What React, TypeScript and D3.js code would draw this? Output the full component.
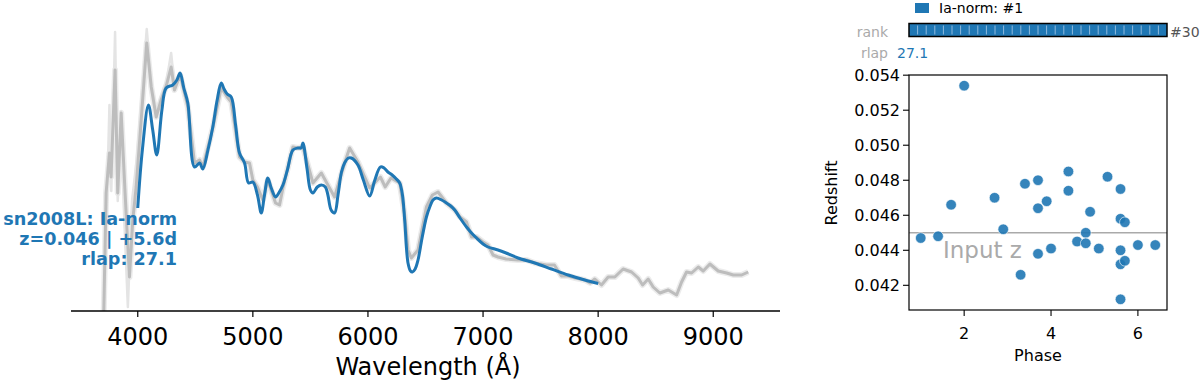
import React from 'react';
import * as d3 from 'd3';

// observed spectrum (smoothed), arbitrary flux units
const obsWave = [3700, 3725, 3754, 3768, 3803, 3826, 3856, 3890, 3928, 3957, 3986, 4030, 4078, 4117, 4160, 4203, 4250, 4290, 4319, 4368, 4435, 4493, 4537, 4565, 4652, 4725, 4777, 4812, 4884, 4928, 4971, 5000, 5040, 5087, 5130, 5197, 5232, 5261, 5348, 5391, 5435, 5522, 5595, 5652, 5710, 5797, 5841, 5913, 6015, 6108, 6150, 6200, 6276, 6319, 6348, 6377, 6435, 6508, 6560, 6609, 6682, 6754, 6800, 6856, 6900, 6943, 7000, 7043, 7087, 7130, 7200, 7304, 7380, 7450, 7550, 7620, 7680, 7739, 7800, 7884, 7930, 7971, 8029, 8087, 8145, 8217, 8290, 8348, 8386, 8435, 8478, 8536, 8609, 8682, 8725, 8768, 8812, 8870, 8913, 8971, 9043, 9116, 9174, 9247, 9304];
const obsFlux = [-0.29, 1.18, 1.58, 1.34, 2.41, 1.18, 1.98, 1.18, 0.34, 0.91, 1.24, 1.91, 2.68, 2.24, 1.94, 2.11, 2.26, 2.44, 2.21, 2.36, 2.04, 1.48, 1.51, 1.44, 1.83, 2.23, 2.14, 2.09, 1.54, 1.49, 1.48, 1.31, 1.24, 1.11, 1.31, 1.08, 1.06, 1.23, 1.64, 1.63, 1.64, 1.28, 1.38, 1.26, 1.14, 1.48, 1.63, 1.49, 1.23, 1.34, 1.24, 1.33, 1.28, 0.96, 0.61, 0.53, 0.61, 1.04, 1.16, 1.19, 1.08, 1.01, 0.94, 0.89, 0.74, 0.74, 0.69, 0.66, 0.56, 0.54, 0.52, 0.51, 0.51, 0.48, 0.46, 0.46, 0.35, 0.35, 0.33, 0.31, 0.28, 0.32, 0.26, 0.34, 0.34, 0.42, 0.39, 0.33, 0.26, 0.32, 0.24, 0.18, 0.21, 0.16, 0.29, 0.39, 0.38, 0.44, 0.40, 0.47, 0.40, 0.38, 0.36, 0.36, 0.39];

// noisy raw spectrum at the blue end
const rawWave = [3700, 3730, 3754, 3770, 3803, 3826, 3856, 3880, 3914, 3950, 3990, 4078, 4117, 4160, 4203, 4250, 4290, 4319];
const rawFlux = [-0.4, 1.0, 2.06, 1.2, 2.79, 1.1, 2.0, 1.0, 0.04, 1.1, 1.5, 2.82, 2.3, 2.0, 2.15, 2.3, 2.58, 2.25];

// best-match template
const tplWave = [4000, 4040, 4093, 4130, 4165, 4210, 4247, 4304, 4340, 4368, 4400, 4435, 4493, 4537, 4565, 4610, 4652, 4690, 4725, 4750, 4777, 4812, 4850, 4884, 4928, 4963, 5000, 5040, 5073, 5100, 5130, 5160, 5197, 5230, 5261, 5300, 5348, 5391, 5420, 5435, 5470, 5500, 5522, 5560, 5595, 5630, 5652, 5680, 5710, 5740, 5770, 5797, 5830, 5856, 5913, 5960, 6015, 6060, 6108, 6140, 6174, 6210, 6247, 6276, 6300, 6319, 6348, 6370, 6386, 6410, 6435, 6470, 6508, 6537, 6565, 6595, 6640, 6682, 6720, 6754, 6800, 6856, 6900, 6943, 7000, 7043, 7130, 7200, 7304, 7450, 7595, 7739, 7884, 8000];
const tplFlux = [1.03, 1.61, 2.06, 1.81, 1.56, 2.01, 2.23, 2.26, 2.31, 2.38, 2.23, 2.08, 1.44, 1.48, 1.42, 1.61, 1.84, 2.11, 2.28, 2.22, 2.17, 2.14, 1.86, 1.58, 1.48, 1.28, 1.29, 1.16, 0.98, 1.15, 1.33, 1.23, 1.14, 1.19, 1.26, 1.41, 1.61, 1.63, 1.63, 1.68, 1.43, 1.21, 1.18, 1.24, 1.26, 1.24, 1.16, 1.01, 0.98, 1.16, 1.39, 1.48, 1.53, 1.53, 1.46, 1.31, 1.15, 1.31, 1.44, 1.43, 1.39, 1.36, 1.32, 1.28, 1.16, 0.91, 0.48, 0.40, 0.39, 0.42, 0.51, 0.73, 0.94, 1.04, 1.11, 1.13, 1.11, 1.08, 1.05, 1.01, 0.93, 0.84, 0.78, 0.73, 0.67, 0.64, 0.61, 0.58, 0.53, 0.48, 0.42, 0.36, 0.31, 0.275];

const specTicks = [4000, 5000, 6000, 7000, 8000, 9000];
const labelLines = ['sn2008L: Ia-norm', 'z=0.046 | +5.6d', 'rlap: 27.1'];

// matches: phase vs redshift
const matchPhase = [1.0, 1.4, 1.7, 2.0, 2.7, 2.9, 3.3, 3.4, 3.7, 3.7, 3.7, 3.9, 4.0, 4.4, 4.4, 4.6, 4.8, 4.8, 4.9, 5.1, 5.3, 5.6, 5.6, 5.7, 5.6, 5.6, 5.7, 5.6, 6.0, 6.4];
const matchZ = [0.0447, 0.0448, 0.0466, 0.0534, 0.0470, 0.0452, 0.0426, 0.0478, 0.0480, 0.0464, 0.0438, 0.0468, 0.0441, 0.0485, 0.0474, 0.0445, 0.0450, 0.0444, 0.0462, 0.0441, 0.0482, 0.0475, 0.0458, 0.0456, 0.0440, 0.0432, 0.0434, 0.0412, 0.0443, 0.0443];
const inputZ = 0.045;
const zTicks = [0.042, 0.044, 0.046, 0.048, 0.050, 0.052, 0.054];
const phaseTicks = [2, 4, 6];
const rankCount = 30;

const BLUE = '#1f77b4';
const FONT = '"DejaVu Sans", sans-serif';

export default function App() {
  // spectrum panel
  const x = d3.scaleLinear().domain([3420, 9580]).range([71, 780]);
  const y = d3.scaleLinear().domain([0, 3]).range([311, 11]);

  const obs = obsWave.map((w, i) => [w, obsFlux[i]] as [number, number]);
  const raw = rawWave.map((w, i) => [w, rawFlux[i]] as [number, number]);
  const tpl = tplWave.map((w, i) => [w, tplFlux[i]] as [number, number]);

  const lineLin = d3.line<[number, number]>().x(d => x(d[0])).y(d => y(d[1]));
  const lineSmooth = d3.line<[number, number]>().x(d => x(d[0])).y(d => y(d[1])).curve(d3.curveCatmullRom.alpha(0.5));

  // scatter panel
  const sx = d3.scaleLinear().domain([0.73, 6.67]).range([909, 1167]);
  const sy = d3.scaleLinear().domain([0.04059, 0.05401]).range([310, 75]);

  const rank = d3.scaleLinear().domain([0, rankCount]).range([909, 1167]);

  return (
    <svg width={1200} height={386} style={{ position: 'fixed', left: 0, top: 0, background: '#fff' }} fontFamily={FONT}>
      <defs>
        <clipPath id="specClip">
          <rect x={71} y={0} width={709} height={311} />
        </clipPath>
      </defs>

      {/* spectra */}
      <g clipPath="url(#specClip)">
        <path d={lineLin(obs) || ''} fill="none" stroke="#ececec" strokeWidth={6} strokeLinejoin="round" />
        <path d={lineLin(raw) || ''} fill="none" stroke="#e4e4e4" strokeWidth={2.5} strokeLinejoin="round" />
        <path d={lineLin(obs) || ''} fill="none" stroke="#bdbdbd" strokeWidth={3} strokeLinejoin="round" />
        <path d={lineSmooth(tpl) || ''} fill="none" stroke={BLUE} strokeWidth={3} strokeLinejoin="round" />
      </g>

      {/* bottom axis */}
      <line x1={71} x2={780} y1={311} y2={311} stroke="#000" strokeWidth={1.5} />
      {specTicks.map(t => (
        <g key={t} transform={`translate(${x(t)},311)`}>
          <line y1={0} y2={6} stroke="#000" strokeWidth={1.2} />
          <text y={34} textAnchor="middle" fontSize={24} fill="#000">{t}</text>
        </g>
      ))}
      <text x={428} y={375} textAnchor="middle" fontSize={24} fill="#000">Wavelength (Å)</text>

      {labelLines.map((l, i) => (
        <text key={i} x={177} y={225 + i * 20} textAnchor="end" fontSize={17.6} fontWeight="bold" fill={BLUE}>{l}</text>
      ))}

      {/* legend + rank */}
      <rect x={915} y={3} width={14} height={10} fill={BLUE} />
      <text x={939} y={13} fontSize={14} fill="#000">Ia-norm: #1</text>
      <text x={888} y={37} textAnchor="end" fontSize={14} fill="#aaaaaa">rank</text>
      <rect x={rank(0)} y={23.5} width={rank(rankCount) - rank(0)} height={13} fill={BLUE} />
      {d3.range(1, rankCount).map(i => (
        <line key={i} x1={rank(i)} x2={rank(i)} y1={25.5} y2={34.5} stroke="#8fb9dc" strokeWidth={1} />
      ))}
      <rect x={rank(0)} y={23.5} width={rank(rankCount) - rank(0)} height={13} fill="none" stroke="#000" strokeWidth={1.5} />
      <text x={1170} y={37} fontSize={14} fill="#555">#30</text>
      <text x={888} y={58} textAnchor="end" fontSize={14} fill="#aaaaaa">rlap</text>
      <text x={897} y={58} fontSize={14} fill={BLUE}>27.1</text>

      {/* scatter */}
      <line x1={909} x2={1167} y1={sy(inputZ)} y2={sy(inputZ)} stroke="#aaaaaa" strokeWidth={1.5} />
      <text x={943} y={258} fontSize={23} fill="#aaaaaa">Input z</text>
      {matchPhase.map((p, i) => (
        <circle key={i} cx={sx(p)} cy={sy(matchZ[i])} r={5.3} fill={BLUE} fillOpacity={0.9} stroke="#fff" strokeWidth={0.6} />
      ))}
      <rect x={909} y={75} width={258} height={235} fill="none" stroke="#000" strokeWidth={1.2} />
      {zTicks.map(t => (
        <g key={t} transform={`translate(909,${sy(t)})`}>
          <line x1={-6} x2={0} stroke="#000" strokeWidth={1.1} />
          <text x={-9} dy="0.35em" textAnchor="end" fontSize={16} fill="#000">{t.toFixed(3)}</text>
        </g>
      ))}
      {phaseTicks.map(t => (
        <g key={t} transform={`translate(${sx(t)},310)`}>
          <line y1={0} y2={6} stroke="#000" strokeWidth={1.1} />
          <text y={29} textAnchor="middle" fontSize={16} fill="#000">{t}</text>
        </g>
      ))}
      <text x={1038} y={361} textAnchor="middle" fontSize={16} fill="#000">Phase</text>
      <text transform={`translate(837,193) rotate(-90)`} textAnchor="middle" fontSize={16} fill="#000">Redshift</text>
    </svg>
  );
}
